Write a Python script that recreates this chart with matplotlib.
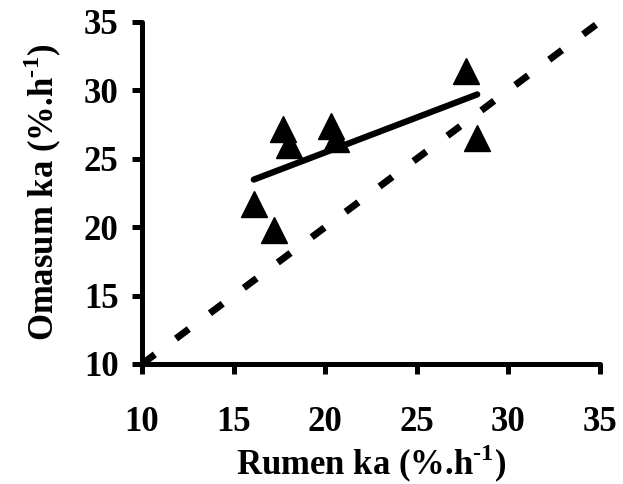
import numpy as np
import matplotlib
matplotlib.use("Agg")
import matplotlib.pyplot as plt

plt.rcParams['font.family'] = ['Liberation Serif', 'DejaVu Serif']
plt.rcParams['font.weight'] = 'bold'
plt.rcParams['mathtext.fontset'] = 'custom'
plt.rcParams['mathtext.rm'] = 'Liberation Serif:bold'
plt.rcParams['mathtext.bf'] = 'Liberation Serif:bold'

# data
rumen_ka = [16.1, 17.2, 17.7, 18.0, 20.3, 20.6, 27.7, 28.3]
omasum_ka = [21.7, 19.8, 27.2, 26.0, 27.4, 26.4, 31.4, 26.5]
fit_slope = 0.51
fit_intercept = 15.26
unity = [10, 35]
ticks = [10, 15, 20, 25, 30, 35]

fig = plt.figure(figsize=(6.23, 4.84), dpi=100)
ax = fig.add_axes([0.228, 0.248, 0.735, 0.707])

ax.plot(unity, unity, color='black', lw=5, linestyle=(0, (2.3, 3.8)),
        dash_capstyle='butt', zorder=2)

fx = np.array([min(rumen_ka), max(rumen_ka)])
ax.plot(fx, fit_intercept + fit_slope * fx, color='black', lw=4.5,
        solid_capstyle='round', zorder=3)

ax.plot(rumen_ka, omasum_ka, linestyle='none', marker='^', markersize=18.5,
        color='black', zorder=4)

ax.set_xlim(10, 35)
ax.set_ylim(10, 35)
ax.set_xticks(ticks)
ax.set_yticks(ticks)
ax.tick_params(direction='out', length=7, width=3.6, labelsize=25)
ax.tick_params(axis='x', pad=23)
ax.tick_params(axis='y', pad=10)
for lab in ax.get_xticklabels() + ax.get_yticklabels():
    lab.set_fontweight('bold')

for side in ['top', 'right']:
    ax.spines[side].set_visible(False)
for side in ['left', 'bottom']:
    ax.spines[side].set_linewidth(3.6)
    ax.spines[side].set_capstyle('round')

ax.set_xlabel(r'Rumen ka (%.h$^{\text{-1}}$)', fontsize=25, fontweight='bold', labelpad=3)
ax.set_ylabel(r'Omasum ka (%.h$^{\text{-1}}$)', fontsize=25, fontweight='bold', labelpad=14)

fig.savefig('out.png', dpi=100)
